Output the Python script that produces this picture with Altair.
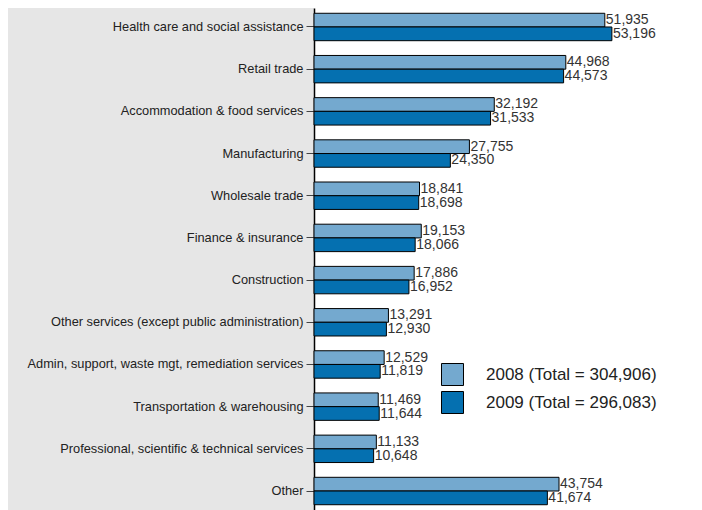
import altair as alt
import pandas as pd

categories = [
    "Health care and social assistance",
    "Retail trade",
    "Accommodation & food services",
    "Manufacturing",
    "Wholesale trade",
    "Finance & insurance",
    "Construction",
    "Other services (except public administration)",
    "Admin, support, waste mgt, remediation services",
    "Transportation & warehousing",
    "Professional, scientific & technical services",
    "Other",
]
v2008 = [51935, 44968, 32192, 27755, 18841, 19153, 17886, 13291, 12529, 11469, 11133, 43754]
v2009 = [53196, 44573, 31533, 24350, 18698, 18066, 16952, 12930, 11819, 11644, 10648, 41674]
series = ["2008 (Total = 304,906)", "2009 (Total = 296,083)"]
colors = ["#74a9cf", "#0570b0"]

rows = []
for c, a, b in zip(categories, v2008, v2009):
    rows.append({"industry": c, "series": series[0], "value": a})
    rows.append({"industry": c, "series": series[1], "value": b})
df = pd.DataFrame(rows)

FONT = "Liberation Sans"

y_enc = alt.Y(
    "industry:N",
    sort=categories,
    title=None,
    scale=alt.Scale(paddingInner=0.35, paddingOuter=0.125),
    axis=alt.Axis(
        labelFontSize=12.8,
        labelFont=FONT,
        labelColor="#222222",
        labelPadding=3,
        labelLimit=400,
        tickSize=8,
        tickColor="#444444",
        domainColor="#000000",
        domainWidth=1.5,
    ),
)
y_off = alt.YOffset("series:N", sort=series)
x_enc = alt.X(
    "value:Q",
    scale=alt.Scale(domain=[0, 67860], nice=False, zero=True),
    axis=None,
)

bars = alt.Chart(df).mark_bar(stroke="#000000", strokeWidth=1).encode(
    y=y_enc,
    yOffset=y_off,
    x=x_enc,
    color=alt.Color(
        "series:N",
        sort=series,
        scale=alt.Scale(domain=series, range=colors),
        legend=alt.Legend(
            title=None,
            orient="none",
            legendX=127,
            legendY=355,
            symbolType="square",
            symbolSize=484,
            symbolStrokeColor="#000000",
            symbolStrokeWidth=1,
            symbolOpacity=1,
            labelFontSize=17,
            labelFont=FONT,
            labelColor="#222222",
            labelOffset=22,
            labelLimit=400,
            rowPadding=1,
            padding=0,
        ),
    ),
)

labels = alt.Chart(df).mark_text(
    align="left", baseline="middle", dx=1, fontSize=14, font=FONT, color="#333333"
).encode(
    y=alt.Y("industry:N", sort=categories),
    yOffset=y_off,
    x=alt.X("value:Q"),
    text=alt.Text("value:Q", format=","),
)

chart = (
    alt.layer(bars, labels)
    .properties(
        width=380,
        height=502,
        background="#e6e6e6",
        padding={"left": 306, "top": 0, "right": 0, "bottom": 0},
        autosize=alt.AutoSizeParams(type="none"),
    )
    .configure_view(fill="#ffffff", stroke=None)
)

chart.save("out.html", embed_options={"renderer": "svg", "actions": False})
